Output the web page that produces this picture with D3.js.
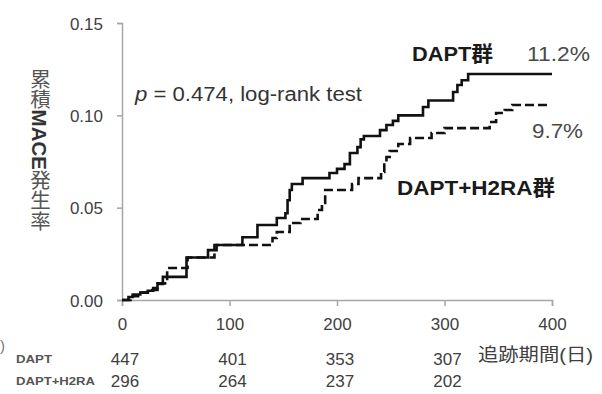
<!DOCTYPE html>
<html><head><meta charset="utf-8">
<script src="https://cdn.jsdelivr.net/npm/d3@7"></script>
<style>
html,body{margin:0;padding:0;background:#fff;}
svg{display:block;}
text{font-family:"Liberation Sans","Noto Sans CJK JP",sans-serif;}
</style></head>
<body>
<div id="chart"></div>
<script>
// ---- data ----
const timeTicks = [0, 100, 200, 300, 400];
const rateTicks = [0, 0.05, 0.10, 0.15];
const rateTickLabels = ["0.00", "0.05", "0.10", "0.15"];
const atRiskTimes = [0, 100, 200, 300];
const groupNames = ["DAPT", "DAPT+H2RA"];
const atRiskDAPT = [447, 401, 353, 307];
const atRiskH2RA = [296, 264, 237, 202];

const daptTimes = [0, 6, 10, 17, 24, 29, 33, 38, 60, 80, 88, 112, 126, 144, 152, 154, 156, 158, 168, 193, 200, 207, 212, 219, 222, 225, 240, 246, 252, 257, 280, 285, 308, 312, 316, 322, 400];
const daptRates = [0, 0.0016, 0.003, 0.004, 0.005, 0.0065, 0.0087, 0.0125, 0.023, 0.027, 0.0298, 0.034, 0.0406, 0.0444, 0.047, 0.054, 0.0596, 0.0628, 0.066, 0.0688, 0.071, 0.0736, 0.0796, 0.0828, 0.087, 0.0888, 0.092, 0.0948, 0.097, 0.100, 0.1045, 0.108, 0.1126, 0.1164, 0.119, 0.1224, 0.1224];

const h2raTimes = [0, 8, 15, 24, 33, 42, 61, 86, 140, 144, 156, 166, 182, 186, 189, 214, 220, 241, 244, 246, 249, 257, 268, 288, 300, 342, 348, 356, 363, 397];
const h2raRates = [0, 0.002, 0.004, 0.0054, 0.009, 0.0173, 0.023, 0.0298, 0.0336, 0.0368, 0.0417, 0.0439, 0.0487, 0.0525, 0.0596, 0.0628, 0.066, 0.0693, 0.0742, 0.0774, 0.0807, 0.0845, 0.0877, 0.0904, 0.0931, 0.0964, 0.1013, 0.1029, 0.1056, 0.1056];

const pText = "= 0.474, log-rank test";
const daptLabel = "DAPT群", daptPct = "11.2%";
const h2raLabel = "DAPT+H2RA群", h2raPct = "9.7%";
const xTitle = "追跡期間(日)";

// ---- drawing ----
const W = 602, H = 394;
const svg = d3.select("#chart").append("svg").attr("width", W).attr("height", H);

const x = d3.scaleLinear().domain([0, 400]).range([122, 552]);
const y = d3.scaleLinear().domain([0, 0.15]).range([300, 23]);

const axisColor = "#a6a6a6", textColor = "#404040";

// y axis
const yAxis = svg.append("g").attr("transform", `translate(${x(0)},0)`)
  .call(d3.axisLeft(y).tickValues(rateTicks).tickSize(5).tickPadding(14)
    .tickFormat((d, i) => rateTickLabels[i]));
// x axis
const xAxis = svg.append("g").attr("transform", `translate(0,${y(0)})`)
  .call(d3.axisBottom(x).tickValues(timeTicks).tickSize(6).tickPadding(12).tickFormat(d3.format("d")));

[yAxis, xAxis].forEach(g => {
  g.select(".domain").attr("stroke", axisColor).attr("stroke-width", 1.5);
  g.selectAll(".tick line").attr("stroke", axisColor).attr("stroke-width", 1.5);
  g.selectAll(".tick text").attr("fill", textColor).attr("font-size", 17)
    .attr("font-family", '"Liberation Sans",sans-serif');
});
yAxis.selectAll(".tick text").attr("dy", "0.36em");
xAxis.selectAll(".tick text").attr("dy", "0.71em");

// curves
const line = d3.line().x(d => x(d[0])).y(d => y(d[1])).curve(d3.curveStepAfter);
svg.append("path").datum(d3.zip(h2raTimes, h2raRates)).attr("d", line)
  .attr("fill", "none").attr("stroke", "#111").attr("stroke-width", 2.6)
  .attr("stroke-dasharray", "9,4");
svg.append("path").datum(d3.zip(daptTimes, daptRates)).attr("d", line)
  .attr("fill", "none").attr("stroke", "#111").attr("stroke-width", 2.6);

// p-value annotation
const pt = svg.append("text").attr("x", 135).attr("y", 101).attr("font-size", 20)
  .attr("fill", "#333").attr("textLength", 227).attr("lengthAdjust", "spacingAndGlyphs");
pt.append("tspan").attr("font-style", "italic").text("p");
pt.append("tspan").text(" " + pText);

// group labels
svg.append("text").attr("x", 412).attr("y", 61).attr("font-size", 21).attr("font-weight", "bold")
  .attr("fill", "#1a1a1a").attr("textLength", 81).attr("lengthAdjust", "spacingAndGlyphs").text(daptLabel);
svg.append("text").attr("x", 527).attr("y", 61).attr("font-size", 21)
  .attr("fill", "#4a4a4a").attr("textLength", 63).attr("lengthAdjust", "spacingAndGlyphs").text(daptPct);
svg.append("text").attr("x", 397).attr("y", 195).attr("font-size", 21).attr("font-weight", "bold")
  .attr("fill", "#1a1a1a").attr("textLength", 158).attr("lengthAdjust", "spacingAndGlyphs").text(h2raLabel);
svg.append("text").attr("x", 532).attr("y", 138).attr("font-size", 21)
  .attr("fill", "#4a4a4a").attr("textLength", 51).attr("lengthAdjust", "spacingAndGlyphs").text(h2raPct);

// y title (vertical writing)
const yt = svg.append("text").attr("x", 39).attr("y", 150)
  .attr("text-anchor", "middle").attr("font-size", 20.5).attr("fill", "#555")
  .style("writing-mode", "vertical-rl");
yt.append("tspan").text("累積");
yt.append("tspan").attr("font-weight", "bold").attr("fill", "#333").text("MACE");
yt.append("tspan").text("発生率");

// x title
svg.append("text").attr("x", 478).attr("y", 361).attr("font-size", 18).attr("fill", "#404040")
  .attr("textLength", 115).attr("lengthAdjust", "spacingAndGlyphs").text(xTitle);

// stray glyph at left edge
svg.append("text").attr("x", 0).attr("y", 351).attr("font-size", 15).attr("fill", "#777").text(")");

// at-risk table
const rows = [atRiskDAPT, atRiskH2RA];
const rowY = [359, 381];
const rowLabelW = [36, 79];
rows.forEach((vals, r) => {
  svg.append("text").attr("x", 16).attr("y", rowY[r] + 4).attr("font-size", 11).attr("font-weight", "bold")
    .attr("fill", "#555").attr("textLength", rowLabelW[r]).attr("lengthAdjust", "spacingAndGlyphs")
    .text(groupNames[r]);
  svg.selectAll(null).data(vals).enter().append("text")
    .attr("x", (d, i) => x(atRiskTimes[i]) + 3).attr("y", rowY[r]).attr("dy", "0.36em")
    .attr("text-anchor", "middle").attr("font-size", 17).attr("fill", "#404040")
    .text(d => d);
});
</script>
</body></html>
